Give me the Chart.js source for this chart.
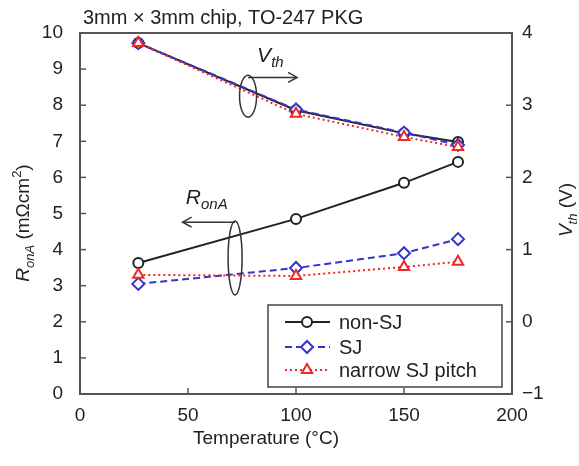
<!DOCTYPE html>
<html><head><meta charset="utf-8">
<script src="https://cdn.jsdelivr.net/npm/chart.js@4"></script>
<style>html,body{margin:0;padding:0;background:#fff}canvas{display:block}</style>
</head><body>
<canvas id="c" width="579" height="466"></canvas>
<script>
const temps = [27, 100, 150, 175];
const seriesNames = ['non-SJ', 'SJ', 'narrow SJ pitch'];
const ronNonSJ = [3.63, 4.85, 5.85, 6.43];
const ronSJ = [3.05, 3.49, 3.9, 4.29];
const ronNarrow = [3.3, 3.27, 3.52, 3.66];
const vthNonSJ = [3.86, 2.93, 2.61, 2.49];
const vthSJ = [3.86, 2.94, 2.62, 2.45];
const vthNarrow = [3.86, 2.88, 2.56, 2.42];
const xTicks = [0, 50, 100, 150, 200];
const yTicks = [0, 1, 2, 3, 4, 5, 6, 7, 8, 9, 10];
const y1Ticks = [-1, 0, 1, 2, 3, 4];
const titleText = '3mm \u00d7 3mm chip, TO-247 PKG';
const xTitle = 'Temperature (\u00b0C)';

const FONT = '"Liberation Sans", Arial, sans-serif';
const TXT = '#222';
const styles = [
  {color: '#222222', dash: [], shape: 'circle', r: 5, w: 2},
  {color: '#3535c8', dash: [7, 4], shape: 'rectRot', r: 6, w: 2},
  {color: '#f02828', dash: [2, 3], shape: 'triangle', r: 6, w: 2}
];
const pts = arr => temps.map((t, i) => ({x: t, y: arr[i]}));
function ds(label, arr, s, axis, legend) {
  return {label, data: pts(arr), yAxisID: axis, borderColor: s.color, borderWidth: s.w,
    borderDash: s.dash, pointStyle: s.shape, pointRadius: s.r, pointBorderColor: s.color,
    pointBackgroundColor: '#fff', pointBorderWidth: 2,
    fill: false, tension: 0, showInLegend: legend};
}
const datasets = [
  ds(seriesNames[2], vthNarrow, styles[2], 'y1', false),
  ds(seriesNames[1], vthSJ, styles[1], 'y1', false),
  ds(seriesNames[0], vthNonSJ, styles[0], 'y1', false),
  ds(seriesNames[2], ronNarrow, styles[2], 'y', true),
  ds(seriesNames[1], ronSJ, styles[1], 'y', true),
  ds(seriesNames[0], ronNonSJ, styles[0], 'y', true)
];

function richText(ctx, parts, x, y, align) {
  let total = 0;
  parts.forEach(p => { ctx.font = (p[2] ? 'italic ' : '') + p[1] + 'px ' + FONT; total += ctx.measureText(p[0]).width; });
  let cx = align === 'center' ? x - total / 2 : x;
  parts.forEach(p => {
    ctx.font = (p[2] ? 'italic ' : '') + p[1] + 'px ' + FONT;
    ctx.textAlign = 'left';
    ctx.fillText(p[0], cx, y + (p[3] || 0));
    cx += ctx.measureText(p[0]).width;
  });
}
function arrow(ctx, x1, y1, x2, y2) {
  ctx.beginPath(); ctx.moveTo(x1, y1); ctx.lineTo(x2, y2); ctx.stroke();
  const d = x2 > x1 ? -1 : 1;
  ctx.beginPath(); ctx.moveTo(x2 + d * 9, y2 - 5); ctx.lineTo(x2, y2); ctx.lineTo(x2 + d * 9, y2 + 5); ctx.stroke();
}

const decor = {
  id: 'decor',
  afterDatasetsDraw(chart) {
    const {ctx, chartArea: a, scales} = chart;
    const xs = scales.x, ys = scales.y, y1 = scales.y1;
    ctx.save();
    ctx.strokeStyle = '#555'; ctx.lineWidth = 2; ctx.setLineDash([]);
    ctx.strokeRect(a.left, a.top, a.right - a.left, a.bottom - a.top);
    ctx.lineWidth = 1.5;
    xTicks.forEach(v => { const p = xs.getPixelForValue(v); ctx.beginPath(); ctx.moveTo(p, a.bottom); ctx.lineTo(p, a.bottom - 6); ctx.stroke(); });
    yTicks.forEach(v => { const p = ys.getPixelForValue(v); ctx.beginPath(); ctx.moveTo(a.left, p); ctx.lineTo(a.left + 6, p); ctx.stroke(); });
    y1Ticks.forEach(v => { const p = y1.getPixelForValue(v); ctx.beginPath(); ctx.moveTo(a.right, p); ctx.lineTo(a.right - 6, p); ctx.stroke(); });

    ctx.strokeStyle = '#333'; ctx.fillStyle = TXT; ctx.lineWidth = 1.5;
    ctx.textBaseline = 'alphabetic';
    let ex = xs.getPixelForValue(77.8), ey = ys.getPixelForValue(8.25);
    ctx.beginPath(); ctx.ellipse(ex, ey, 8.5, 21, 0, 0, Math.PI * 2); ctx.stroke();
    let ay = ys.getPixelForValue(8.77);
    arrow(ctx, ex, ay, xs.getPixelForValue(100.5), ay);
    richText(ctx, [['V', 21, true, 0], ['th', 15, true, 5]], xs.getPixelForValue(82), ys.getPixelForValue(9.2), 'left');
    ex = xs.getPixelForValue(71.8); ey = ys.getPixelForValue(3.77);
    ctx.beginPath(); ctx.ellipse(ex, ey, 7, 37, 0, 0, Math.PI * 2); ctx.stroke();
    ay = ys.getPixelForValue(4.76);
    arrow(ctx, ex, ay, xs.getPixelForValue(47.5), ay);
    richText(ctx, [['R', 21, true, 0], ['onA', 15, true, 5]], xs.getPixelForValue(49), ys.getPixelForValue(5.27), 'left');
    ctx.restore();
  },
  afterDraw(chart) {
    const {ctx, chartArea: a} = chart;
    ctx.save();
    ctx.fillStyle = TXT; ctx.textBaseline = 'alphabetic';
    ctx.font = '20px ' + FONT; ctx.textAlign = 'left';
    ctx.fillText(titleText, 83, 24);
    ctx.font = '19px ' + FONT; ctx.textAlign = 'center';
    ctx.fillText(xTitle, (a.left + a.right) / 2 - 30, 444);
    ctx.save(); ctx.translate(29, 223); ctx.rotate(-Math.PI / 2);
    richText(ctx, [['R', 19, true, 0], ['onA', 13, true, 5], [' (m\u03a9cm', 19, false, 0], ['2', 13, false, -8], [')', 19, false, 0]], 0, 0, 'center');
    ctx.restore();
    ctx.save(); ctx.translate(572, 210); ctx.rotate(-Math.PI / 2);
    richText(ctx, [['V', 19, true, 0], ['th', 13, true, 5], [' (V)', 19, false, 0]], 0, 0, 'center');
    ctx.restore();

    const bw = 234, bh = 82;
    const bx = a.right - 10 - bw, by = a.bottom - 7 - bh;
    ctx.fillStyle = '#fff'; ctx.fillRect(bx, by, bw, bh);
    ctx.strokeStyle = '#444'; ctx.lineWidth = 1.5; ctx.setLineDash([]);
    ctx.strokeRect(bx, by, bw, bh);
    const rows = [17, 42, 65];
    const order = [5, 4, 3];
    order.forEach((di, i) => {
      const d = chart.data.datasets[di];
      const yy = by + rows[i];
      ctx.strokeStyle = d.borderColor; ctx.lineWidth = d.borderWidth; ctx.setLineDash(d.borderDash);
      ctx.beginPath(); ctx.moveTo(bx + 17, yy); ctx.lineTo(bx + 62, yy); ctx.stroke();
      ctx.setLineDash([]);
      ctx.fillStyle = '#fff'; ctx.strokeStyle = d.borderColor; ctx.lineWidth = d.pointBorderWidth;
      Chart.helpers.drawPoint(ctx, {pointStyle: d.pointStyle, radius: d.pointRadius, borderWidth: d.pointBorderWidth}, bx + 39, yy);
      ctx.fillStyle = TXT; ctx.font = '20px ' + FONT; ctx.textAlign = 'left'; ctx.textBaseline = 'middle';
      ctx.fillText(d.label, bx + 71, yy + 1);
    });
    ctx.restore();
  }
};

new Chart(document.getElementById('c'), {
  type: 'line',
  data: {datasets},
  plugins: [decor],
  options: {
    responsive: false, animation: false, devicePixelRatio: 1,
    layout: {padding: {top: 33, left: 0, right: 0, bottom: 0}},
    plugins: {legend: {display: false}, tooltip: {enabled: false}, title: {display: false}},
    scales: {
      x: {type: 'linear', min: 0, max: 200, position: 'bottom',
        afterBuildTicks: s => { s.ticks = xTicks.map(v => ({value: v})); },
        afterFit: s => { s.height = 72; },
        grid: {display: false, drawTicks: false}, border: {display: false},
        ticks: {font: {size: 19, family: FONT}, color: TXT, padding: 10, maxRotation: 0}},
      y: {type: 'linear', min: 0, max: 10, position: 'left',
        afterBuildTicks: s => { s.ticks = yTicks.map(v => ({value: v})); },
        afterFit: s => { s.width = 80; },
        grid: {display: false, drawTicks: false}, border: {display: false},
        ticks: {font: {size: 19, family: FONT}, color: TXT, padding: 17}},
      y1: {type: 'linear', min: -1, max: 4, position: 'right',
        afterBuildTicks: s => { s.ticks = y1Ticks.map(v => ({value: v})); },
        afterFit: s => { s.width = 67; },
        grid: {display: false, drawTicks: false}, border: {display: false},
        ticks: {font: {size: 19, family: FONT}, color: TXT, padding: 10,
          callback: v => v < 0 ? '\u2212' + Math.abs(v) : String(v)}}
    }
  }
});
</script>
</body></html>
